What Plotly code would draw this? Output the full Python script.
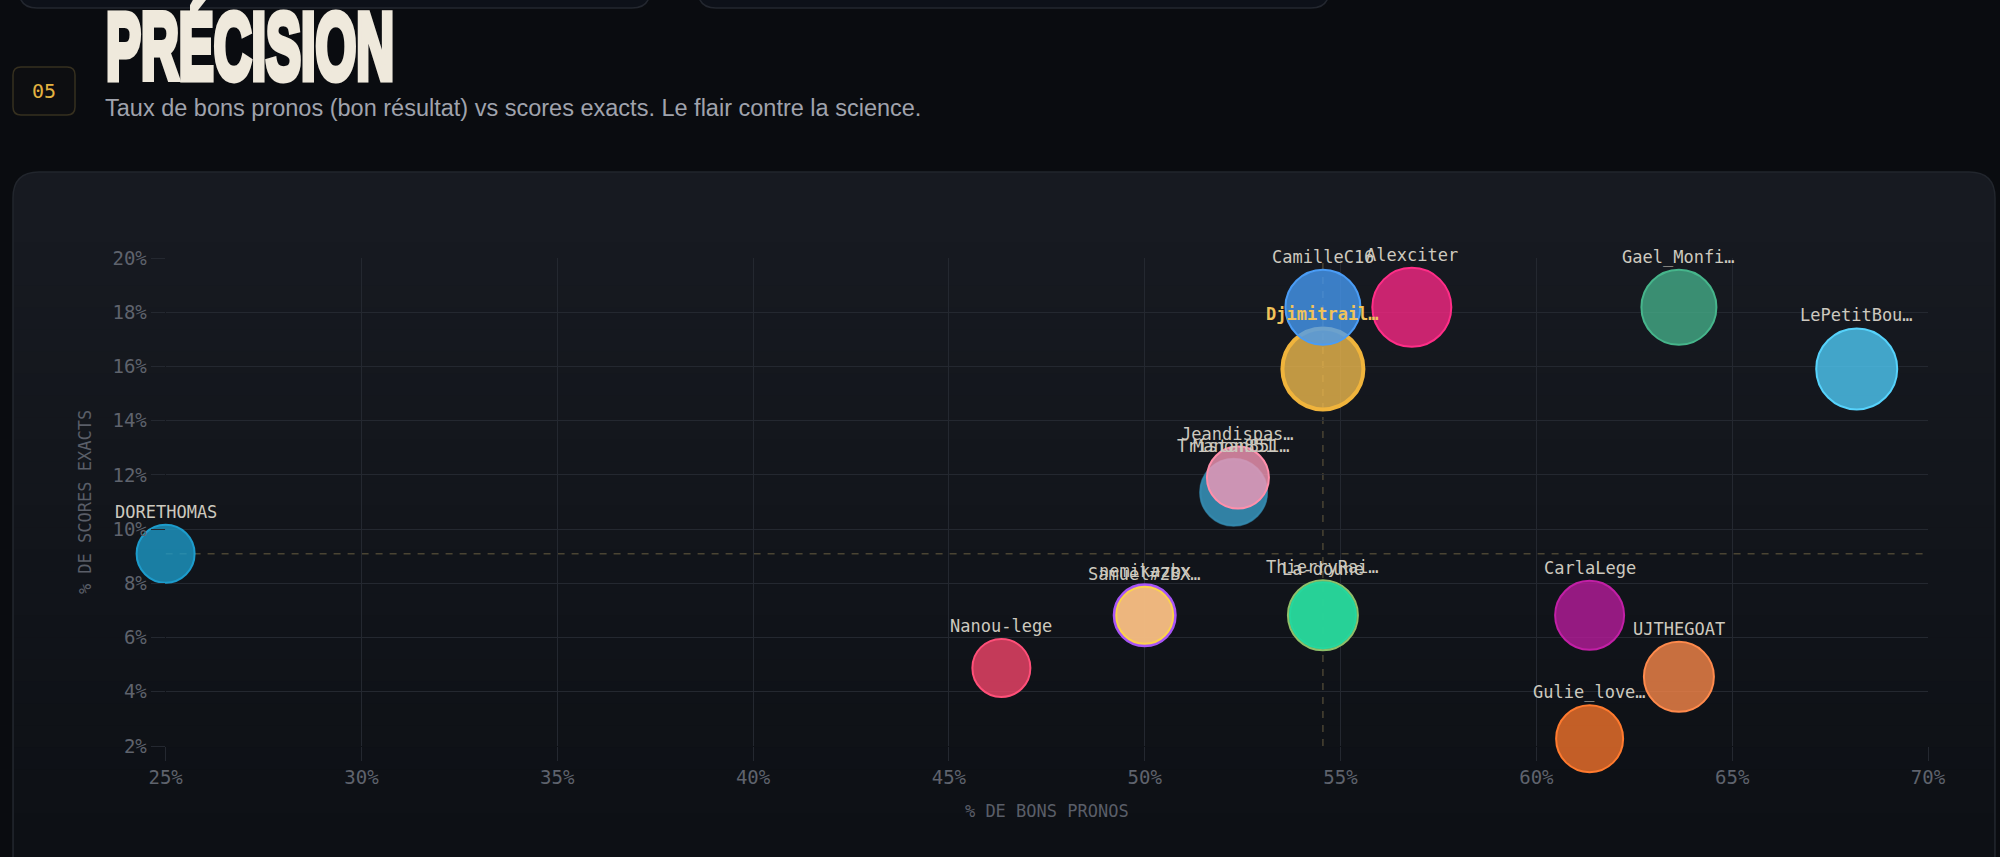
import plotly.graph_objects as go

W, H = 2000, 857

# ---------------- data ----------------
joueurs = ["DORETHOMAS", "Nanou-lege", "nemikazbx", "Samuel#2BX…", "Manon851", "Tristan851…",
           "Jeandispas…", "Djimitrail…", "CamilleC16", "ThierryRai…", "La-doune", "Alexciter",
           "CarlaLege", "Gulie_love…", "Gael_Monfi…", "UJTHEGOAT", "LePetitBou…"]
pct_bons = [25.00, 46.34, 50.00, 50.00, 52.27, 52.27,
            52.38, 54.55, 54.55, 54.55, 54.55, 56.82,
            61.36, 61.36, 63.64, 63.64, 68.18]
pct_exacts = [9.09, 4.88, 6.82, 6.82, 11.36, 11.36,
              11.90, 15.91, 18.18, 6.82, 6.82, 18.18,
              6.82, 2.27, 18.18, 4.55, 15.91]
poids = [60, 60, 64, 59, 68, 69,
         64, 85, 77, 72, 68, 81,
         71, 69, 77, 72, 83]
couleurs = ["#1e9cca", "#f7456c", "#a855f7", "#f2bd7a", "#2d7fa3", "#3589ad",
            "#f99ab8", "#f2bd4e", "#469bf5", "#8fc06a", "#21d69c", "#fd2886",
            "#bb1c9f", "#f6742c", "#45af8a", "#fd894a", "#4fcdfa"]
bordures = ["#1d9ccc", "#ff4f78", "#a855f7", "#fcd34d", "#2d7fa3", "rgba(53,137,173,0.6)",
            "#ff8fab", "#f0b43c", "#4a9cf5", "#8fc06a", "#25d89e", "#ff2d87",
            "#c21fa6", "#ff7a2e", "#46b58b", "#ff8a4c", "#56d2fb"]
moi = "Djimitrail…"
moy_bons = 54.55
moy_exacts = 9.09

x_ticks = [25, 30, 35, 40, 45, 50, 55, 60, 65, 70]
y_ticks = [2, 4, 6, 8, 10, 12, 14, 16, 18, 20]
x_ticktext = [f"{v}%" for v in x_ticks]
y_ticktext = [f"{v}%" for v in y_ticks]

# ---------------- helpers ----------------
def px(x):
    return x / W

def py(y):
    return 1 - y / H

def rgba(hexc, a):
    h = hexc.lstrip("#")
    r, g, b = int(h[0:2], 16), int(h[2:4], 16), int(h[4:6], 16)
    return f"rgba({r},{g},{b},{a})"

def rounded_top_rect(x0, y0, x1, y1, r):
    pts = [
        f"M {px(x0)},{py(y1)}",
        f"L {px(x0)},{py(y0 + r)}",
        f"Q {px(x0)},{py(y0)} {px(x0 + r)},{py(y0)}",
        f"L {px(x1 - r)},{py(y0)}",
        f"Q {px(x1)},{py(y0)} {px(x1)},{py(y0 + r)}",
        f"L {px(x1)},{py(y1)}",
        "Z",
    ]
    return " ".join(pts)

def rounded_bottom_rect(x0, y0, x1, y1, r):
    pts = [
        f"M {px(x0)},{py(y0)}",
        f"L {px(x0)},{py(y1 - r)}",
        f"Q {px(x0)},{py(y1)} {px(x0 + r)},{py(y1)}",
        f"L {px(x1 - r)},{py(y1)}",
        f"Q {px(x1)},{py(y1)} {px(x1)},{py(y1 - r)}",
        f"L {px(x1)},{py(y0)}",
        "Z",
    ]
    return " ".join(pts)

def rounded_rect(x0, y0, x1, y1, r):
    pts = [
        f"M {px(x0 + r)},{py(y0)}",
        f"L {px(x1 - r)},{py(y0)}",
        f"Q {px(x1)},{py(y0)} {px(x1)},{py(y0 + r)}",
        f"L {px(x1)},{py(y1 - r)}",
        f"Q {px(x1)},{py(y1)} {px(x1 - r)},{py(y1)}",
        f"L {px(x0 + r)},{py(y1)}",
        f"Q {px(x0)},{py(y1)} {px(x0)},{py(y1 - r)}",
        f"L {px(x0)},{py(y0 + r)}",
        f"Q {px(x0)},{py(y0)} {px(x0 + r)},{py(y0)}",
        "Z",
    ]
    return " ".join(pts)

MONO = "DejaVu Sans Mono, Liberation Mono, monospace"
BG = "#0a0c10"
GRID = "#242830"

# ---------------- figure ----------------
fig = go.Figure()

radii = [p / 2 for p in poids]
lw = [4 if n == moi else (3 if n == "nemikazbx" else 2) for n in joueurs]
sizes = [2 * r - w for r, w in zip(radii, lw)]
alphas = [0.78] * len(joueurs)
for i, n in enumerate(joueurs):
    if n == "Samuel#2BX…":
        alphas[i] = 0.95
    if n == "La-doune":
        alphas[i] = 0.92
fills = [rgba(c, a) for c, a in zip(couleurs, alphas)]

fig.add_trace(go.Scatter(
    x=pct_bons, y=pct_exacts, mode="markers",
    marker=dict(size=sizes, color=fills, line=dict(color=bordures, width=lw), opacity=1),
    cliponaxis=False, hoverinfo="skip", showlegend=False,
))

# labels above bubbles
for n, xv, yv, r in zip(joueurs, pct_bons, pct_exacts, radii):
    is_me = n == moi
    fig.add_annotation(
        x=xv, y=yv, xref="x", yref="y", text=f"<b>{n}</b>" if is_me else n,
        showarrow=False, yshift=r + 12, yanchor="middle", xanchor="center",
        font=dict(family=MONO, size=17, color="#f0c35a" if is_me else "#cdc9bf"),
    )

shapes = []
# top cards (partially visible)
for x0, x1 in [(19, 650), (698, 1329)]:
    shapes.append(dict(type="path", xref="paper", yref="paper",
                       path=rounded_bottom_rect(x0, -40, x1, 8, 18),
                       fillcolor="#0d1119", line=dict(color="#23272f", width=1.5), layer="below"))
# main card with gradient
card_x0, card_x1, card_y0 = 13, 1995, 172
shapes.append(dict(type="path", xref="paper", yref="paper",
                   path=rounded_top_rect(card_x0, card_y0, card_x1, 900, 26),
                   fillcolor="#171a21", line=dict(color="#22262d", width=1.5), layer="below"))
top_c = (23, 26, 33)
bot_c = (13, 16, 21)
nb = 30
y_start, y_end = 198, 857
for i in range(nb):
    t = i / (nb - 1)
    c = tuple(round(top_c[k] + (bot_c[k] - top_c[k]) * t) for k in range(3))
    ya = y_start + (y_end - y_start) * i / nb
    yb = y_start + (y_end - y_start) * (i + 1) / nb + 1
    shapes.append(dict(type="rect", xref="paper", yref="paper",
                       x0=px(card_x0 + 1), x1=px(card_x1 - 1), y0=py(yb), y1=py(ya),
                       fillcolor=f"rgb{c}", line=dict(width=0), layer="below"))
# "05" badge
shapes.append(dict(type="path", xref="paper", yref="paper",
                   path=rounded_rect(13, 67, 75, 115, 8),
                   fillcolor="#0d0e11", line=dict(color="#36301f", width=1.5), layer="below"))
# average lines
shapes.append(dict(type="line", xref="x", yref="y", x0=x_ticks[0], x1=x_ticks[-1],
                   y0=moy_exacts, y1=moy_exacts, layer="below",
                   line=dict(color="#4a4433", width=1.5, dash="7px,7px")))
shapes.append(dict(type="line", xref="x", yref="y", x0=moy_bons, x1=moy_bons,
                   y0=y_ticks[0], y1=y_ticks[-1], layer="below",
                   line=dict(color="#4a4433", width=1.5, dash="7px,7px")))

fig.update_layout(shapes=shapes)

# header texts
fig.add_annotation(xref="paper", yref="paper", x=px(104), y=py(47), xanchor="left", yanchor="middle",
                   text="<b>PRÉCISION</b>", showarrow=False,
                   font=dict(family="Liberation Sans, Arial", size=94, color="#efe9dc"))
fig.add_annotation(xref="paper", yref="paper", x=px(44), y=py(91), xanchor="center", yanchor="middle",
                   text="05", showarrow=False,
                   font=dict(family=MONO, size=20, color="#e3b341"))
fig.add_annotation(xref="paper", yref="paper", x=px(103), y=py(108), xanchor="left", yanchor="middle",
                   text="Taux de bons pronos (bon résultat) vs scores exacts. Le flair contre la science.",
                   showarrow=False,
                   font=dict(family="Liberation Sans, Arial", size=23.5, color="#a0a3ad"))

axis_common = dict(
    showgrid=True, gridcolor=GRID, gridwidth=1, zeroline=False, showline=False,
    ticks="outside", ticklen=14, tickcolor=GRID, tickwidth=1,
    tickfont=dict(family=MONO, size=19, color="#5f636d"),
    automargin=False, fixedrange=True,
)
fig.update_xaxes(**axis_common, range=[x_ticks[0], x_ticks[-1]], tickmode="array",
                 tickvals=x_ticks, ticktext=x_ticktext,
                 domain=[px(165.6), px(1928)],
                 title=dict(text="% DE BONS PRONOS", standoff=18,
                            font=dict(family=MONO, size=17, color="#5a5e68")))
fig.update_yaxes(**axis_common, range=[y_ticks[0], y_ticks[-1]], tickmode="array",
                 tickvals=y_ticks, ticktext=y_ticktext,
                 domain=[py(746), py(258)],
                 title=dict(text="% DE SCORES EXACTS", standoff=16,
                            font=dict(family=MONO, size=17, color="#5a5e68")))

fig.update_layout(
    width=W, height=H,
    margin=dict(l=0, r=0, t=0, b=0, pad=0),
    paper_bgcolor=BG, plot_bgcolor="rgba(0,0,0,0)",
    showlegend=False, hovermode=False,
)

post = """
var gd = document.getElementById('{plot_id}');
gd.querySelectorAll('text.annotation-text').forEach(function(t){
  if (t.textContent === 'PRÉCISION') {
    var b = t.getBBox();
    var s = 288 / b.width;
    var old = t.getAttribute('transform') || '';
    t.setAttribute('transform', old + ' translate(' + b.x + ',0) scale(' + s + ',1) translate(' + (-b.x) + ',0)');
    t.style.stroke = '#efe9dc';
    t.style.strokeWidth = '7px';
    t.style.strokeLinejoin = 'miter';
  }
});
"""

fig.write_html("out.html", include_plotlyjs=True, config={"displayModeBar": False, "staticPlot": True},
               post_script=post)
